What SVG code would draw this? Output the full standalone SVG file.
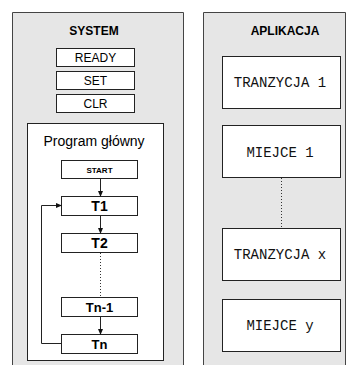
<svg xmlns="http://www.w3.org/2000/svg" width="349" height="365" viewBox="0 0 349 365">
  <style>
    .panel { fill: #e6e6e6; stroke: #444; stroke-width: 1; }
    .box { fill: #fff; stroke: #222; stroke-width: 1; }
    .head { font-family: "Liberation Sans", Arial, sans-serif; font-weight: bold; font-size: 12px; fill: #000; text-anchor: middle; }
    .reg { font-family: "Liberation Sans", Arial, sans-serif; font-size: 12px; fill: #000; text-anchor: middle; }
    .step { font-family: "Liberation Sans", Arial, sans-serif; font-weight: bold; font-size: 13px; fill: #000; text-anchor: middle; }
    .mono { font-family: "Liberation Mono", "Courier New", monospace; font-size: 14px; fill: #111; text-anchor: middle; }
    .line { fill: none; stroke: #222; stroke-width: 1; }
    .dot { fill: none; stroke: #333; stroke-width: 1; stroke-dasharray: 1 2; }
  </style>
  <defs>
    <marker id="arr" markerWidth="6" markerHeight="6" refX="5" refY="3" orient="auto" markerUnits="userSpaceOnUse">
      <path d="M0,0.5 L6,3 L0,5.5 Z" fill="#111"/>
    </marker>
  </defs>
  <rect width="349" height="365" fill="#fff"/>

  <!-- SYSTEM panel -->
  <g id="system">
    <path class="panel" d="M12.5,366 V12.5 H183.5 V366"/>
    <text class="head" x="94" y="35">SYSTEM</text>
  </g>
  <g id="ready">
    <rect class="box" x="56.5" y="48.5" width="78" height="18"/>
    <text class="reg" x="95.5" y="62">READY</text>
  </g>
  <g id="set">
    <rect class="box" x="56.5" y="71.5" width="78" height="18"/>
    <text class="reg" x="95.5" y="85">SET</text>
  </g>
  <g id="clr">
    <rect class="box" x="56.5" y="94.5" width="78" height="18"/>
    <text class="reg" x="95.5" y="108">CLR</text>
  </g>

  <!-- main program -->
  <g id="program">
    <rect class="box" x="27.5" y="123.5" width="136" height="237"/>
    <text class="reg" x="94" y="146" style="font-size:14px">Program główny</text>
  </g>
  <g id="start">
    <rect class="box" x="61.5" y="160.5" width="76" height="18"/>
    <text class="step" x="99.5" y="172.5" style="font-size:8px">START</text>
  </g>
  <g id="t1">
    <rect class="box" x="61.5" y="196.5" width="76" height="19"/>
    <text class="step" x="99.5" y="211" style="font-size:14px">T1</text>
  </g>
  <g id="t2">
    <rect class="box" x="61.5" y="233.5" width="76" height="19"/>
    <text class="step" x="99.5" y="248" style="font-size:14px">T2</text>
  </g>
  <g id="tn1">
    <rect class="box" x="61.5" y="297.5" width="76" height="19"/>
    <text class="step" x="99.5" y="312">Tn-1</text>
  </g>
  <g id="tn">
    <rect class="box" x="61.5" y="334.5" width="76" height="19"/>
    <text class="step" x="99.5" y="349">Tn</text>
  </g>

  <!-- APLIKACJA panel -->
  <g id="aplikacja">
    <path class="panel" d="M203.5,366 V12.5 H345.5 V366"/>
    <text class="head" x="285" y="35">APLIKACJA</text>
  </g>
  <g id="tranzycja1">
    <rect class="box" x="222.5" y="56.5" width="118" height="52"/>
    <text class="mono" x="280" y="87">TRANZYCJA 1</text>
  </g>
  <g id="miejce1">
    <rect class="box" x="222.5" y="125.5" width="118" height="52"/>
    <text class="mono" x="280" y="157">MIEJCE 1</text>
  </g>
  <g id="tranzycjax">
    <rect class="box" x="222.5" y="228.5" width="118" height="52"/>
    <text class="mono" x="280" y="259">TRANZYCJA x</text>
  </g>
  <g id="miejcey">
    <rect class="box" x="222.5" y="299.5" width="118" height="52"/>
    <text class="mono" x="280" y="330">MIEJCE y</text>
  </g>

  <!-- connectors -->
  <g id="connectors">
    <line class="line" x1="100.5" y1="178.5" x2="100.5" y2="196" marker-end="url(#arr)"/>
    <line class="line" x1="100.5" y1="215.5" x2="100.5" y2="233" marker-end="url(#arr)"/>
    <line class="dot" x1="100.5" y1="253" x2="100.5" y2="297"/>
    <line class="line" x1="100.5" y1="316.5" x2="100.5" y2="334" marker-end="url(#arr)"/>
    <path class="line" d="M61.5,343.5 H41.5 V205.5 H61" marker-end="url(#arr)"/>
    <line class="dot" x1="281.5" y1="178" x2="281.5" y2="228"/>
  </g>
</svg>
